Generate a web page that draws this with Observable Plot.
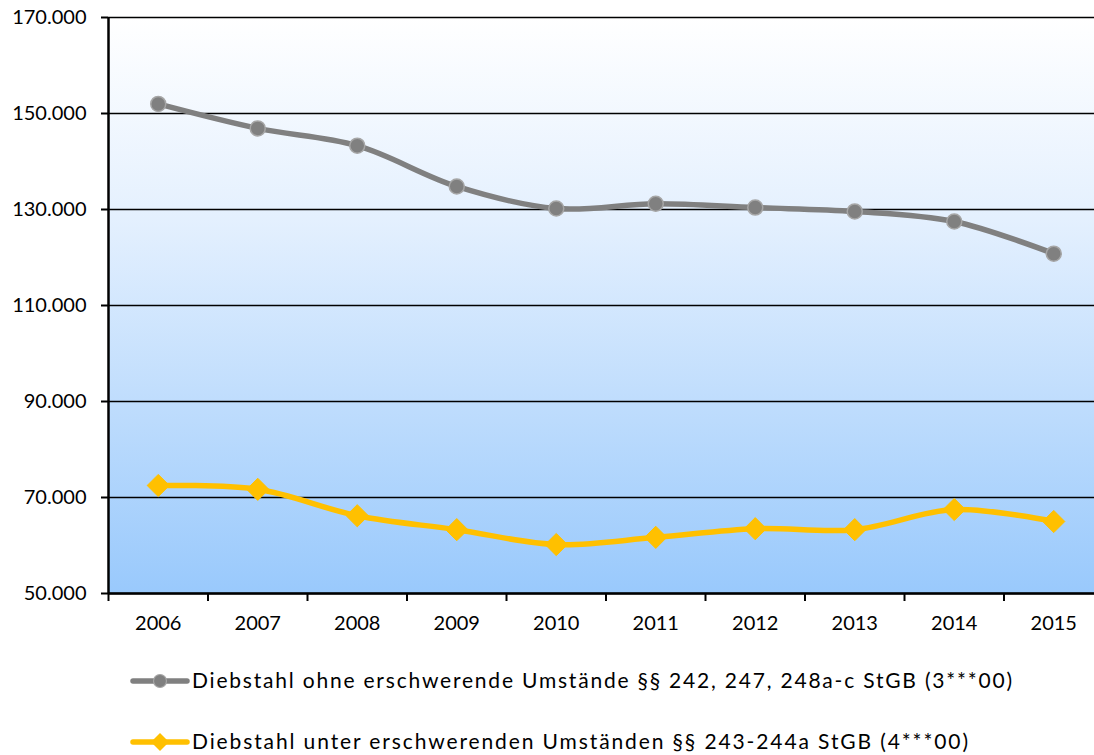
<!DOCTYPE html>
<html>
<head>
<meta charset="utf-8">
<script src="https://cdn.jsdelivr.net/npm/d3@7"></script>
<script src="https://cdn.jsdelivr.net/npm/@observablehq/plot@0.6"></script>
<style>
  body { margin: 0; background: #fff; font-family: Lato, "Open Sans", sans-serif; }
  #chart { position: relative; width: 1094px; height: 755px; overflow: hidden; }
  #legend { position: absolute; left: 0; top: 640px; }
</style>
</head>
<body>
<div id="chart"></div>
<script>
const years = [2006, 2007, 2008, 2009, 2010, 2011, 2012, 2013, 2014, 2015];
const ohne = [152000, 146900, 143300, 134800, 130200, 131200, 130400, 129600, 127500, 120800];
const unter = [72500, 71700, 66200, 63300, 60200, 61700, 63500, 63300, 67500, 65000];
const seriesNames = [
  "Diebstahl ohne erschwerende Umstände §§ 242, 247, 248a-c StGB (3***00)",
  "Diebstahl unter erschwerenden Umständen §§ 243-244a StGB (4***00)"
];
const yTicks = [50000, 70000, 90000, 110000, 130000, 150000, 170000];

const rowsOhne = years.map((y, i) => ({year: y, value: ohne[i]}));
const rowsUnter = years.map((y, i) => ({year: y, value: unter[i]}));
const boundaries = years.map(y => y - 0.5);

const fmt = d => d3.format(",")(d).replace(/,/g, ".");

const plot = Plot.plot({
  width: 1094,
  height: 640,
  marginLeft: 108,
  marginTop: 17,
  marginBottom: 47,
  marginRight: 0,
  style: {fontFamily: "Lato, 'Open Sans', sans-serif", fontSize: "20px", color: "#000", background: "transparent"},
  x: {domain: [years[0] - 0.5, years[years.length - 1] + 0.5], range: [108, 1103], label: null},
  y: {domain: [50000, 170000], label: null},
  marks: [
    Plot.frame({fill: "url(#bgGrad)", stroke: "none"}),
    Plot.gridY(yTicks, {stroke: "#000", strokeOpacity: 1, strokeWidth: 1.6}),
    Plot.axisY(yTicks, {tickFormat: fmt, tickSize: 7, tickPadding: 15, strokeWidth: 2, fontSize: 20, label: null}),
    Plot.axisX(years, {tickSize: 0, tickPadding: 22, tickFormat: d => String(d), fontSize: 20, label: null}),
    Plot.axisX(boundaries, {tickSize: 8, tickFormat: () => "", strokeWidth: 2, label: null}),
    Plot.ruleX([years[0] - 0.5], {stroke: "#000", strokeWidth: 2.5}),
    Plot.ruleY([50000], {stroke: "#000", strokeWidth: 2.5}),
    Plot.line(rowsOhne, {x: "year", y: "value", stroke: "#808080", strokeWidth: 5.5, curve: "catmull-rom"}),
    Plot.dot(rowsOhne, {x: "year", y: "value", r: 7.5, fill: "#808080", stroke: "#a6a6a6", strokeWidth: 1.5}),
    Plot.line(rowsUnter, {x: "year", y: "value", stroke: "#FFC000", strokeWidth: 5.5, curve: "catmull-rom"}),
    Plot.dot(rowsUnter, {x: "year", y: "value", symbol: "diamond2", r: 10, fill: "#FFC000", stroke: "#FFC000", strokeWidth: 1})
  ]
});

// gradient background
const svgNS = "http://www.w3.org/2000/svg";
const defs = document.createElementNS(svgNS, "defs");
defs.innerHTML = `<linearGradient id="bgGrad" x1="0" y1="0" x2="0" y2="1">
  <stop offset="0%" stop-color="#ffffff"/>
  <stop offset="35%" stop-color="#e4f0fe"/>
  <stop offset="100%" stop-color="#99c9fc"/>
</linearGradient>`;
plot.insertBefore(defs, plot.firstChild);

const chart = document.getElementById("chart");
chart.appendChild(plot);

// legend
const leg = d3.select(chart).append("svg")
  .attr("id", "legend")
  .attr("width", 1094).attr("height", 115)
  .style("font-family", "Lato, 'Open Sans', sans-serif");

const items = [
  {name: seriesNames[0], color: "#808080", sym: "circle", y: 41, w: 820},
  {name: seriesNames[1], color: "#FFC000", sym: "diamond", y: 102, w: 776}
];
items.forEach(it => {
  const g = leg.append("g");
  g.append("line").attr("x1", 133).attr("x2", 187).attr("y1", it.y).attr("y2", it.y)
    .attr("stroke", it.color).attr("stroke-width", 5.5).attr("stroke-linecap", "round");
  if (it.sym === "circle") {
    g.append("circle").attr("cx", 160).attr("cy", it.y).attr("r", 6.5)
      .attr("fill", it.color).attr("stroke", "#a6a6a6").attr("stroke-width", 1.2);
  } else {
    g.append("path").attr("d", `M160,${it.y - 9}L169,${it.y}L160,${it.y + 9}L151,${it.y}Z`).attr("fill", it.color);
  }
  g.append("text").attr("x", 192).attr("y", it.y).attr("dy", "0.35em")
    .attr("font-size", 21).attr("fill", "#000")
    .attr("textLength", it.w).attr("lengthAdjust", "spacing")
    .text(it.name);
});
</script>
</body>
</html>
